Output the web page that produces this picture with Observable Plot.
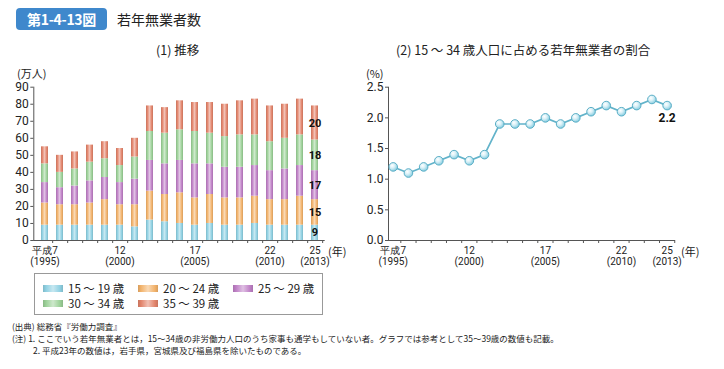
<!DOCTYPE html>
<html><head><meta charset="utf-8">
<script src="https://cdn.jsdelivr.net/npm/d3@7"></script>
<script src="https://cdn.jsdelivr.net/npm/@observablehq/plot@0.6"></script>
<style>
body{margin:0;background:#fff;font-family:"Noto Sans CJK JP","Noto Sans",sans-serif;color:#222;}
#page{position:relative;width:724px;height:369px;overflow:hidden;}
.abs{position:absolute;white-space:nowrap;}
#badge{left:16px;top:8px;width:91px;height:22px;background:#3f88cc;border-radius:4px;color:#fff;font-weight:bold;font-size:14px;line-height:22px;text-align:center;letter-spacing:-0.3px;}
#title{left:117px;top:9px;font-size:14px;line-height:20px;}
.sub{font-size:12.5px;line-height:16px;top:42px;}
.unit{font-size:11px;top:65px;}
.nen{font-size:11px;top:243px;}
#legend{left:34px;top:273px;width:287px;height:40px;border:1px solid #999;}
.li{position:absolute;font-size:11.5px;line-height:12px;height:12px;}
.sw{display:inline-block;width:20px;height:7px;margin-right:5px;vertical-align:1px;}
.note{font-size:8.5px;line-height:11px;}
</style></head>
<body><div id="page">
<div id="badge" class="abs">第1-4-13図</div>
<div id="title" class="abs">若年無業者数</div>
<div class="abs sub" style="left:156px">(1) 推移</div>
<div class="abs sub" style="left:396px">(2) 15 ～ 34 歳人口に占める若年無業者の割合</div>
<div class="abs unit" style="left:17px">(万人)</div>
<div class="abs unit" style="left:366px">(%)</div>
<div class="abs nen" style="left:328px">(年)</div>
<div class="abs nen" style="left:681px">(年)</div>
<div id="left" class="abs" style="left:0;top:60px"></div>
<div id="right" class="abs" style="left:360px;top:60px"></div>
<div id="legend" class="abs"></div>
<div class="abs note" style="left:12px;top:321px">(出典) 総務省『労働力調査』</div>
<div class="abs note" style="left:12px;top:333px">(注) 1. ここでいう若年無業者とは，15～34歳の非労働力人口のうち家事も通学もしていない者。グラフでは参考として35～39歳の数値も記載。</div>
<div class="abs note" style="left:33px;top:345px">2. 平成23年の数値は，岩手県，宮城県及び福島県を除いたものである。</div>
</div>
<script>
const years = [1995,1996,1997,1998,1999,2000,2001,2002,2003,2004,2005,2006,2007,2008,2009,2010,2011,2012,2013];
const labelYears = [1995,2000,2005,2010,2013];
const heiseiLabels = ["平成7","12","17","22","25"];
const ageGroups = ["15 ～ 19 歳","20 ～ 24 歳","25 ～ 29 歳","30 ～ 34 歳","35 ～ 39 歳"];
const ageColors = ["#8fd0e2","#f2b26a","#bf80c6","#9cd198","#e2836a"];
const age15_19 = [9,9,9,9,9,9,8,12,11,10,9,10,9,9,10,9,9,9,9];
const age20_24 = [13,12,12,13,15,12,13,17,16,18,16,17,16,16,16,15,15,17,15];
const age25_29 = [12,10,11,13,13,13,15,18,18,19,20,18,18,18,18,17,18,18,17];
const age30_34 = [11,9,10,11,11,10,13,17,18,18,19,18,18,19,18,17,18,18,18];
const age35_39 = [10,10,10,10,10,10,11,15,15,17,17,18,19,20,21,21,20,21,20];
const shareRate = [1.2,1.1,1.2,1.3,1.4,1.3,1.4,1.9,1.9,1.9,2.0,1.9,2.0,2.1,2.2,2.1,2.2,2.3,2.2];
const countTicks = [0,10,20,30,40,50,60,70,80,90];
const rateTicks = [0,0.5,1.0,1.5,2.0,2.5];

const series = [age15_19, age20_24, age25_29, age30_34, age35_39];
const rows = [];
ageGroups.forEach((g, j) => years.forEach((yr, i) => rows.push({year: yr, age: g, value: series[j][i]})));
const rateRows = years.map((yr, i) => ({year: yr, pct: shareRate[i]}));
const xLabel = d => heiseiLabels[labelYears.indexOf(d)] + "\n(" + d + ")";
const font = "Roboto, 'Noto Sans', sans-serif";
const axisColor = "#555";

function light(c, t){ return d3.interpolateRgb(c, "#fff")(t); }
function dark(c){ return d3.color(c).darker(0.35).formatHex(); }

// Left chart
const W1 = 360, ml1 = 33.3, mr1 = 35.3;
const step1 = (W1 - ml1 - mr1) / years.length;
const left = Plot.plot({
  width: W1, height: 210, marginTop: 26.7, marginBottom: 30, marginLeft: ml1, marginRight: mr1,
  style: {fontFamily: font, fontSize: "11px", color: "#222", overflow: "visible", background: "transparent"},
  x: {type: "band", domain: years, paddingInner: 0.54, paddingOuter: 0.27, axis: null},
  y: {domain: [0, 90], axis: null},
  color: {domain: ageGroups, range: ageColors},
  marks: [
    Plot.barY(rows, {x: "year", y: "value", fill: "age"}),
    Plot.text(rows.filter(d => d.year === years[years.length-1]),
      Plot.stackY({x: "year", y: "value", z: "age", text: d => String(d.value), fontWeight: "bold", fontSize: 11, fill: "#111"})),
    Plot.ruleY([0], {stroke: axisColor}),
    Plot.frame({anchor: "left", stroke: axisColor}),
    Plot.axisY({ticks: countTicks, label: null, tickSize: 3, tickPadding: 2, fontSize: 12, stroke: axisColor, fill: "#222"}),
    Plot.axisX({ticks: years, label: null, tickSize: 3, tickFormat: () => "", dx: step1/2, stroke: axisColor}),
    Plot.axisX({ticks: labelYears, label: null, tickSize: 0, tickPadding: 6, tickFormat: xLabel, fontSize: 10, lineHeight: 1.1, fill: "#222"})
  ]
});
document.getElementById("left").appendChild(left);
{
  const svg = d3.select(left);
  const defs = svg.insert("defs", ":first-child");
  ageColors.forEach((c, i) => {
    const g = defs.append("linearGradient").attr("id", "bg" + i).attr("x1", 0).attr("x2", 1).attr("y1", 0).attr("y2", 0);
    [[0, dark(c)], [0.18, c], [0.5, light(c, 0.5)], [0.82, c], [1, dark(c)]].forEach(([o, col]) =>
      g.append("stop").attr("offset", o).attr("stop-color", col));
  });
  const hex = ageColors.map(c => d3.color(c).formatHex());
  svg.selectAll("rect").each(function(){
    const f = this.getAttribute("fill");
    if (!f) return;
    const col = d3.color(f);
    if (!col) return;
    const k = hex.indexOf(col.formatHex());
    if (k >= 0) this.setAttribute("fill", "url(#bg" + k + ")");
  });
}

// Right chart
const W2 = 364;
const right = Plot.plot({
  width: W2, height: 210, marginTop: 26.7, marginBottom: 30, marginLeft: 28, marginRight: 49,
  style: {fontFamily: font, fontSize: "11px", color: "#222", overflow: "visible", background: "transparent"},
  x: {domain: [1994.69, 2013.55], axis: null},
  y: {domain: [0, 2.5], axis: null},
  marks: [
    Plot.ruleY([0], {stroke: axisColor}),
    Plot.frame({anchor: "left", stroke: axisColor}),
    Plot.axisY({ticks: rateTicks, label: null, tickFormat: d3.format(".1f"), tickSize: 3, tickPadding: 2, fontSize: 12, stroke: axisColor, fill: "#222"}),
    Plot.axisX({ticks: years.map(y => y + 0.5), label: null, tickSize: 3, tickFormat: () => "", stroke: axisColor}),
    Plot.axisX({ticks: labelYears, label: null, tickSize: 0, tickPadding: 6, tickFormat: xLabel, fontSize: 10, lineHeight: 1.1, fill: "#222"}),
    Plot.line(rateRows, {x: "year", y: "pct", stroke: "#62b3ca", strokeWidth: 1.7}),
    Plot.dot(rateRows, {x: "year", y: "pct", r: 4.3, fill: "url(#mk)", stroke: "#5aaec6", strokeWidth: 1}),
    Plot.text(rateRows.slice(-1), {x: "year", y: "pct", text: d => d.pct.toFixed(1), dy: 13, fontWeight: "bold", fontSize: 12, fill: "#111"})
  ]
});
document.getElementById("right").appendChild(right);
{
  const defs = d3.select(right).insert("defs", ":first-child");
  const g = defs.append("radialGradient").attr("id", "mk").attr("cx", "38%").attr("cy", "35%").attr("r", "65%");
  [[0, "#ffffff"], [0.45, "#d8f0f7"], [1, "#86cde0"]].forEach(([o, c]) => g.append("stop").attr("offset", o).attr("stop-color", c));
}

// Legend
const legend = document.getElementById("legend");
const pos = [[8, 8], [103, 8], [198, 8], [8, 23], [103, 23]];
ageGroups.forEach((g, i) => {
  const c = ageColors[i];
  const el = document.createElement("div");
  el.className = "li";
  el.style.left = pos[i][0] + "px";
  el.style.top = pos[i][1] + "px";
  el.innerHTML = `<span class="sw" style="background:linear-gradient(90deg, ${dark(c)} 0%, ${c} 15%, ${light(c,0.5)} 50%, ${c} 85%, ${dark(c)} 100%)"></span>${g}`;
  legend.appendChild(el);
});
</script>
</body></html>
